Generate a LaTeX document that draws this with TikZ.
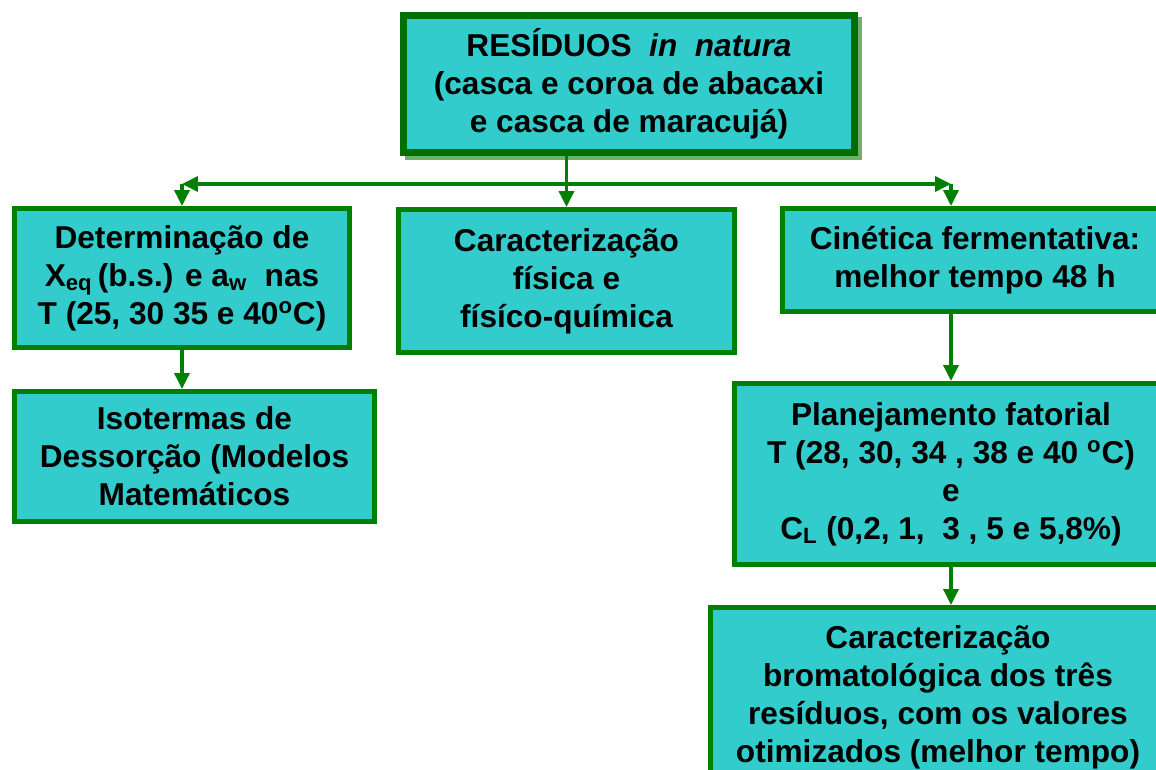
\documentclass[tikz,border=0pt]{standalone}
\usepackage{fontspec}
\setmainfont{Liberation Sans}
\usetikzlibrary{arrows.meta}
\definecolor{turquesa}{RGB}{51,204,204}
\definecolor{verde}{RGB}{0,128,0}
\definecolor{verdeesc}{RGB}{0,110,0}
\definecolor{sombra}{RGB}{110,175,110}
\begin{document}
\begin{tikzpicture}[x=0.02cm,y=-0.02cm]
\tikzstyle{every node}+=[inner sep=0pt]
\tikzstyle{caixa}=[draw=verde, fill=turquesa, line width=0.1cm, align=center, font=\fontsize{18}{21.6}\selectfont\bfseries]
\tikzstyle{seta}=[verde, line width=0.07cm, -{Triangle[length=0.32cm,width=0.3cm]}]
\useasboundingbox (0,0) rectangle (1156,770);
\clip (0,0) rectangle (1156,770);
\fill [sombra] (405,17) rectangle (862,160);
\node [caixa, draw=verdeesc, line width=0.14cm, minimum width=9.02cm, minimum height=2.74cm] (res) at (629,84) {RESÍDUOS\ \ \textit{in\ \ natura}\\(casca e coroa de abacaxi\\e casca de maracujá)};
\node [caixa, minimum width=6.7cm, minimum height=2.78cm] (det) at (182,278) {Determinação de\\X\textsubscript{eq}\,(b.s.) e a\textsubscript{w}\ \ nas\\T (25, 30 35 e 40\textsuperscript{o}C)};
\node [caixa, minimum width=7.2cm, minimum height=2.6cm] (iso) at (194.5,456.5) {Isotermas de\\Dessorção (Modelos\\Matemáticos};
\node [caixa, minimum width=6.72cm, minimum height=2.86cm] (mid) at (566.5,281) {Caracterização\\física e\\físíco-química};
\node [caixa, minimum width=7.7cm, minimum height=2.06cm] (cin) at (975,260) {Cinética fermentativa:\\melhor tempo 48 h};
\node [caixa, minimum width=8.66cm, minimum height=3.62cm] (plan) at (951,474) {Planejamento fatorial\\T (28, 30, 34 , 38 e 40 \textsuperscript{o}C)\\e\\C\textsubscript{L} (0,2, 1,\ \ 3 , 5 e 5,8\%)};
\node [caixa, minimum width=9.1cm, minimum height=3.6cm] (bro) at (938,697.5) {Caracterização\\bromatológica dos três\\resíduos, com os valores\\otimizados (melhor tempo)};
\coordinate (je) at (182,184);
\coordinate (jd) at (951,184);
\draw [seta, {Triangle[length=0.32cm,width=0.3cm]}-{Triangle[length=0.32cm,width=0.3cm]}] (je) -- (jd);
\draw [seta] (je) -- (det.north);
\draw [seta] (jd) -- (jd |- cin.north);
\draw [seta] (mid.north |- res.south) -- (mid.north);
\draw [seta] (det.south) -- (det.south |- iso.north);
\draw [seta] (plan.north |- cin.south) -- (plan.north);
\draw [seta] (plan.south) -- (plan.south |- bro.north);
\end{tikzpicture}
\end{document}
